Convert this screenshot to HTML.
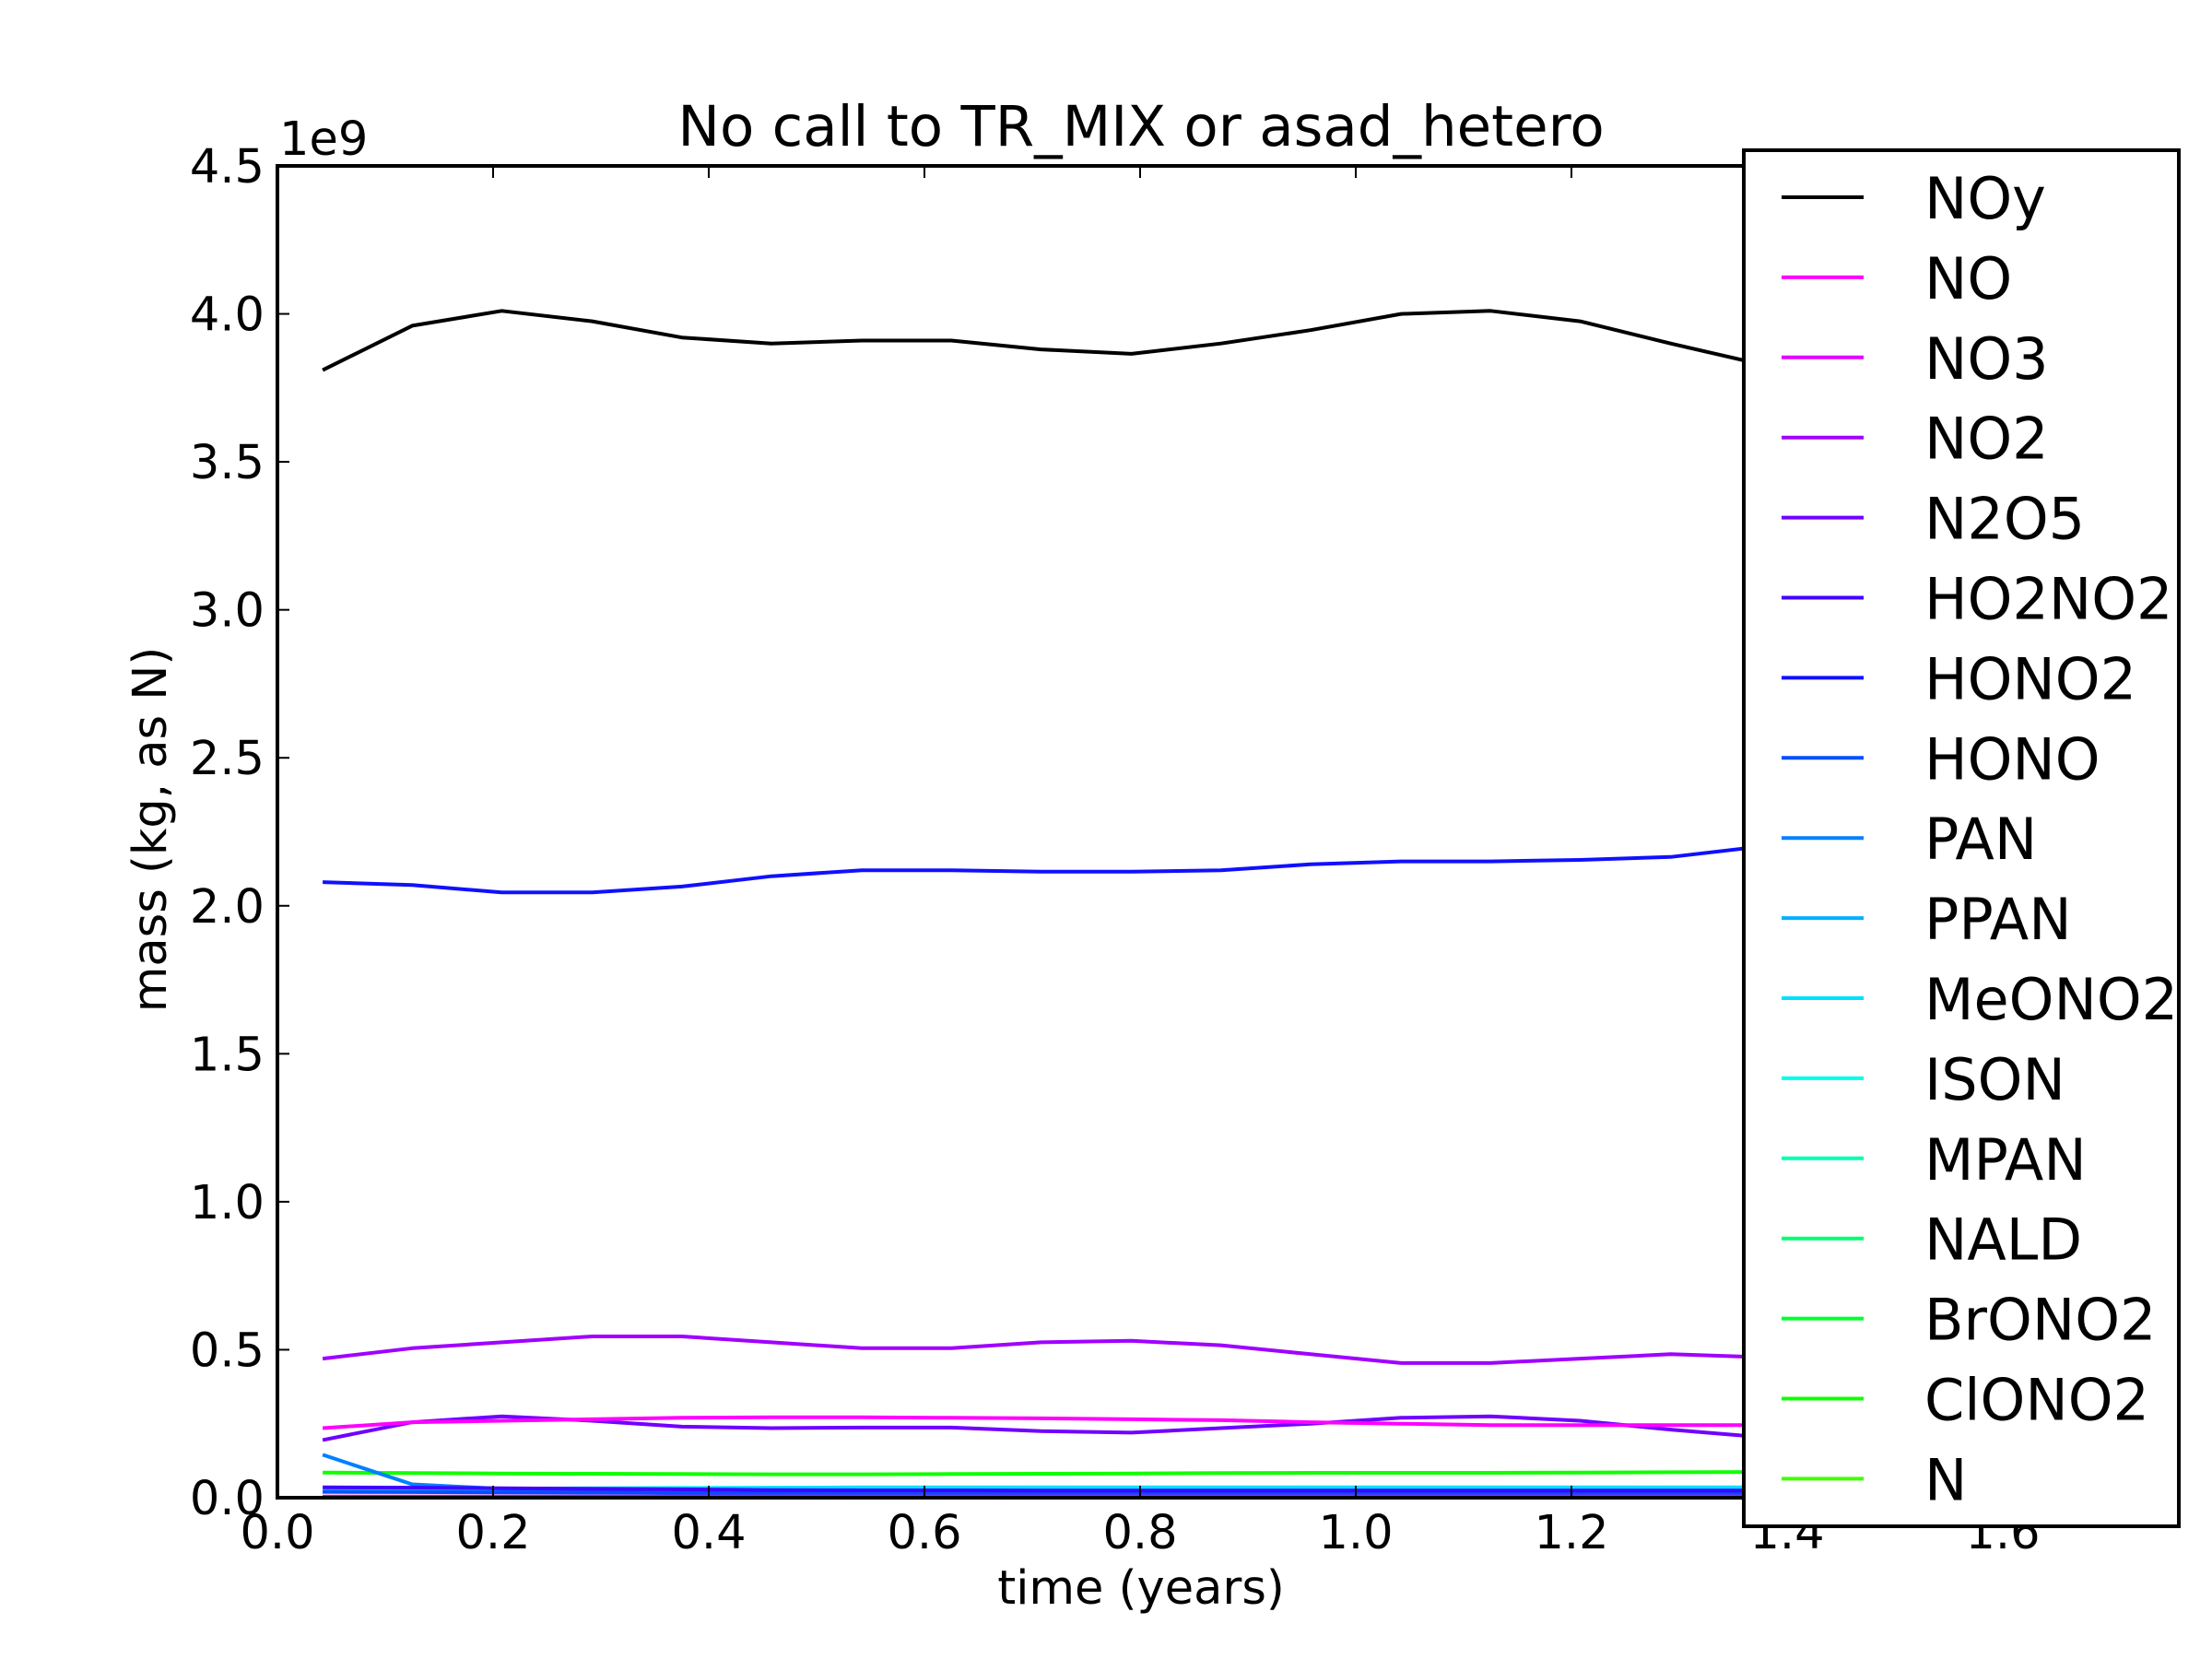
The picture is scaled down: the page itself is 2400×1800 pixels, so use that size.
<!DOCTYPE html>
<html><head><meta charset="utf-8"><style>
html,body{margin:0;padding:0;background:#fff;}
svg{display:block;font-family:"DejaVu Sans","Liberation Sans",sans-serif;}
</style></head><body>
<svg id="chart" width="2400" height="1800" viewBox="0 0 2400 1800" xmlns="http://www.w3.org/2000/svg">
<rect width="2400" height="1800" fill="#fff"/>
<g id="lines"></g>
<g id="axes"></g>
<g id="legend"></g>
</svg>
<script>
const times = [0.042,0.125,0.208,0.292,0.375,0.458,0.542,0.625,0.708,0.792,0.875,0.958,1.042,1.125,1.208,1.292,1.375,1.458];
const seriesNames = ["NOy","NO","NO3","NO2","N2O5","HO2NO2","HONO2","HONO","PAN","PPAN","MeONO2","ISON","MPAN","NALD","BrONO2","ClONO2","N"];
const seriesColors = ["#000000","#ff00ff","#e000ff","#a000ff","#7000ff","#4000ff","#1010ff","#0050ff","#0080ff","#00b0ff","#00e0ff","#00ffe8","#00ffb0","#00ff70","#00ff30","#10ff00","#40ff00"];
const valNOy = [3.81,3.96,4.01,3.975,3.92,3.90,3.91,3.91,3.88,3.865,3.90,3.945,4.00,4.01,3.975,3.90,3.83,3.78];
const valNO = [0.235,0.255,0.26,0.265,0.27,0.272,0.272,0.27,0.268,0.265,0.262,0.255,0.25,0.245,0.245,0.245,0.245,0.245];
const valNO3 = [0.004,0.004,0.004,0.004,0.004,0.004,0.004,0.004,0.004,0.004,0.004,0.004,0.004,0.004,0.004,0.004,0.004,0.004];
const valNO2 = [0.47,0.505,0.525,0.545,0.545,0.525,0.505,0.505,0.525,0.53,0.515,0.485,0.455,0.455,0.47,0.485,0.475,0.47];
const valN2O5 = [0.195,0.255,0.275,0.26,0.24,0.235,0.237,0.237,0.225,0.22,0.235,0.25,0.27,0.275,0.26,0.23,0.205,0.2];
const valHO2NO2 = [0.035,0.034,0.032,0.030,0.028,0.026,0.025,0.025,0.024,0.024,0.024,0.024,0.024,0.024,0.024,0.024,0.024,0.024];
const valHONO2 = [2.08,2.07,2.045,2.045,2.065,2.10,2.12,2.12,2.115,2.115,2.12,2.14,2.15,2.15,2.155,2.165,2.20,2.22];
const valHONO = [0.02,0.019,0.018,0.017,0.016,0.015,0.015,0.015,0.015,0.015,0.015,0.015,0.015,0.015,0.015,0.015,0.015,0.015];
const valPAN = [0.145,0.045,0.03,0.02,0.015,0.01,0.008,0.007,0.006,0.006,0.006,0.006,0.006,0.006,0.006,0.006,0.006,0.006];
const valPPAN = [0.002,0.002,0.002,0.002,0.002,0.002,0.002,0.002,0.002,0.002,0.002,0.002,0.002,0.002,0.002,0.002,0.002,0.002];
const valMeONO2 = [0.026,0.028,0.030,0.032,0.033,0.034,0.035,0.035,0.035,0.035,0.035,0.035,0.035,0.035,0.035,0.035,0.035,0.035];
const valISON = [0.003,0.003,0.003,0.003,0.003,0.003,0.003,0.003,0.003,0.003,0.003,0.003,0.003,0.003,0.003,0.003,0.003,0.003];
const valMPAN = [0.002,0.002,0.002,0.002,0.002,0.002,0.002,0.002,0.002,0.002,0.002,0.002,0.002,0.002,0.002,0.002,0.002,0.002];
const valNALD = [0.003,0.003,0.003,0.003,0.003,0.003,0.003,0.003,0.003,0.003,0.003,0.003,0.003,0.003,0.003,0.003,0.003,0.003];
const valBrONO2 = [0.001,0.001,0.001,0.001,0.001,0.001,0.001,0.001,0.001,0.001,0.001,0.001,0.001,0.001,0.001,0.001,0.001,0.001];
const valClONO2 = [0.085,0.083,0.082,0.081,0.080,0.079,0.079,0.080,0.081,0.082,0.083,0.084,0.084,0.084,0.085,0.086,0.087,0.088];
const valN = [0.001,0.001,0.001,0.001,0.001,0.001,0.001,0.001,0.001,0.001,0.001,0.001,0.001,0.001,0.001,0.001,0.001,0.001];
const allVals = [valNOy,valNO,valNO3,valNO2,valN2O5,valHO2NO2,valHONO2,valHONO,valPAN,valPPAN,valMeONO2,valISON,valMPAN,valNALD,valBrONO2,valClONO2,valN];
const xTicks = [0.0,0.2,0.4,0.6,0.8,1.0,1.2,1.4,1.6];
const yTicks = [0.0,0.5,1.0,1.5,2.0,2.5,3.0,3.5,4.0,4.5];

const NS="http://www.w3.org/2000/svg";
const L=301,R=2173,T=180,B=1625;
const xMin=0,xMax=1.6,yMin=0,yMax=4.5;
function sx(v){return L+(v-xMin)/(xMax-xMin)*(R-L);}
function sy(v){return B-(v-yMin)/(yMax-yMin)*(B-T);}
function mk(tag,attrs,parent){const e=document.createElementNS(NS,tag);for(const k in attrs)e.setAttribute(k,attrs[k]);parent.appendChild(e);return e;}

const gl=document.getElementById('lines');
const clip=mk('clipPath',{id:'pc'},gl);mk('rect',{x:L,y:T,width:R-L,height:B-T},clip);
for(let s=allVals.length-1;s>=0;s--){
  const pts=times.map((t,i)=>sx(t).toFixed(1)+','+sy(allVals[s][i]).toFixed(1)).join(' ');
  const p=mk('polyline',{points:pts,fill:'none',stroke:seriesColors[s],'stroke-width':4,'stroke-linejoin':'round','clip-path':'url(#pc)'},gl);
  
  
}

const ga=document.getElementById('axes');
const frame=mk('rect',{x:L,y:T,width:R-L,height:B-T,fill:'none',stroke:'#000','stroke-width':4},ga);


xTicks.forEach(v=>{
  const x=sx(v);
  mk('line',{x1:x,y1:B,x2:x,y2:B-13,stroke:'#000','stroke-width':2},ga);
  mk('line',{x1:x,y1:T,x2:x,y2:T+13,stroke:'#000','stroke-width':2},ga);
  const t=mk('text',{x:x,y:B+55,'font-size':51,'text-anchor':'middle',fill:'#000'},ga);
  t.textContent=v.toFixed(1);
  
  
});
yTicks.forEach(v=>{
  const y=sy(v);
  mk('line',{x1:L,y1:y,x2:L+13,y2:y,stroke:'#000','stroke-width':2},ga);
  mk('line',{x1:R,y1:y,x2:R-13,y2:y,stroke:'#000','stroke-width':2},ga);
  const t=mk('text',{x:L-14,y:y+18,'font-size':51,'text-anchor':'end',fill:'#000'},ga);
  t.textContent=v.toFixed(1);
  
  
});
const off=mk('text',{x:303,y:168,'font-size':51,fill:'#000'},ga);off.textContent='1e9';


const title=mk('text',{x:1238,y:158,'font-size':61,'text-anchor':'middle',fill:'#000'},ga);title.textContent='No call to TR_MIX or asad_hetero';


const xl=mk('text',{x:1238,y:1740,'font-size':51,'text-anchor':'middle',fill:'#000'},ga);xl.textContent='time (years)';


const yl=mk('text',{x:0,y:0,'font-size':51,'text-anchor':'middle',fill:'#000',transform:'translate(180,900) rotate(-90)'},ga);yl.textContent='mass (kg, as N)';



const lg=document.getElementById('legend');
const box=mk('rect',{x:1892,y:163,width:2364-1892,height:1656-163,fill:'#fff',stroke:'#000','stroke-width':4},lg);


seriesNames.forEach((n,i)=>{
  const y=214+i*86.9;
  const g=mk('g',{},lg);
  
  
  mk('line',{x1:1933,y1:y,x2:2022,y2:y,stroke:seriesColors[i],'stroke-width':4},g);
  const t=mk('text',{x:2088,y:y+23,'font-size':62,fill:'#000'},g);t.textContent=n;
});
</script>
</body></html>
